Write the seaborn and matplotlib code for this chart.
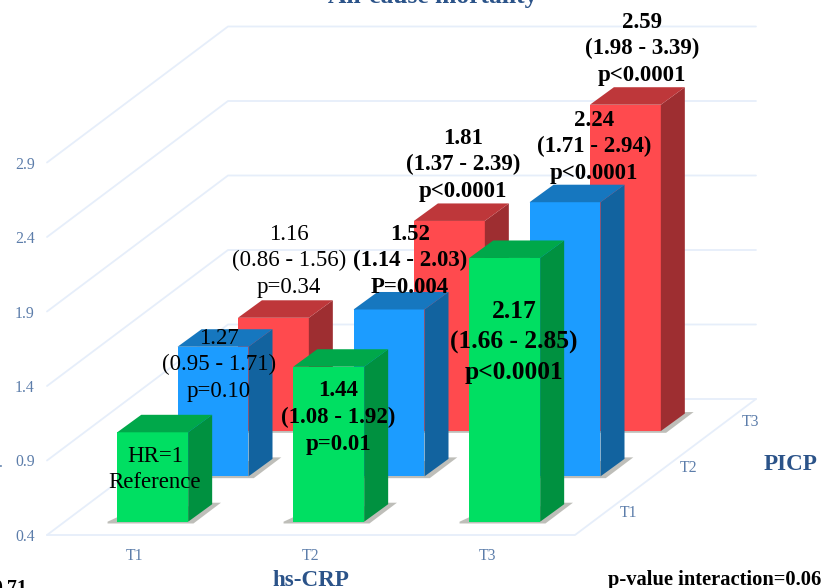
import matplotlib
matplotlib.use("Agg")
import matplotlib.pyplot as plt
import seaborn as sns
from matplotlib.patches import Polygon

# Chart data
hs_crp = ["T1", "T2", "T3"]
picp = ["T1", "T2", "T3"]
hr_t1 = [1.00, 1.44, 2.17]
hr_t2 = [1.27, 1.52, 2.24]
hr_t3 = [1.16, 1.81, 2.59]
y_ticks = [0.4, 0.9, 1.4, 1.9, 2.4, 2.9]

label_t1 = ["HR=1\nReference", "1.44\n(1.08 - 1.92)\np=0.01", "2.17\n(1.66 - 2.85)\np<0.0001"]
label_t2 = ["1.27\n(0.95 - 1.71)\np=0.10", "1.52\n(1.14 - 2.03)\nP=0.004", "2.24\n(1.71 - 2.94)\np<0.0001"]
label_t3 = ["1.16\n(0.86 - 1.56)\np=0.34", "1.81\n(1.37 - 2.39)\np<0.0001", "2.59\n(1.98 - 3.39)\np<0.0001"]

W, H = 822, 588
NAVY = "#2B5389"
TICK = "#5C7DAA"
GRID = "#E6EEFA"
FONT = "Liberation Serif"

sns.set_theme(style="white")
plt.rcParams["font.family"] = [FONT, "DejaVu Sans"]

fig = plt.figure(figsize=(W / 100, H / 100), dpi=100)

# floor front-left corner, size of the plot box, all in pixels
X0, Y0, BOX_W, BOX_H = 47, 535, 528, 447
YMIN, YMAX = 0.4, 3.4
per_cat = BOX_W / 3
per_unit = BOX_H / (YMAX - YMIN)

# oblique projection: how far the whole floor depth shifts on screen
DEPTH_X, DEPTH_Y = 181, 136
BAR_DX, BAR_DY = 24, 17.5


def make_axes(dx, dy, z):
    ax = fig.add_axes([(X0 + dx) / W, (H - Y0 + dy) / H, BOX_W / W, BOX_H / H], zorder=z)
    ax.set_xlim(-0.5, 2.5)
    ax.set_ylim(YMIN, YMAX)
    return ax


# frame: walls, floor and axis labels
base = make_axes(0, 0, 0)
sns.barplot(x=hs_crp, y=[YMIN] * 3, ax=base, color="white", saturation=1, alpha=0)
base.set_xlim(-0.5, 2.5)
base.set_ylim(YMIN, YMAX)
base.set_yticks(y_ticks)
base.set_yticklabels([f"{v:.1f}" for v in y_ticks])
base.tick_params(axis="y", length=0, pad=9, labelsize=11.3, labelcolor=TICK)
base.tick_params(axis="x", length=0, pad=9.5, labelsize=11.3, labelcolor=TICK)
sns.despine(ax=base, left=True, bottom=True)
base.patch.set_visible(False)

ddx = DEPTH_X / per_cat
ddy = DEPTH_Y / per_unit
for v in y_ticks:
    base.plot([-0.5, -0.5 + ddx, 2.5 + ddx], [v, v + ddy, v + ddy], color=GRID, lw=1.3, clip_on=False)
base.plot([-0.5, 2.5, 2.5 + ddx], [YMIN, YMIN, YMIN + ddy], color=GRID, lw=1.3, clip_on=False)

# one axes per PICP row, moved back along the depth direction
rows = [
    (hr_t3, 2, "#FF4A4E", "#BE373A", "#9E2E31"),
    (hr_t2, 1, "#1C9CFF", "#1677BF", "#12639F"),
    (hr_t1, 0, "#00DF62", "#00A84A", "#009140"),
]
for values, i, front, top, side in rows:
    shift = 13.3 + i * DEPTH_Y / 3
    ax = make_axes(shift * DEPTH_X / DEPTH_Y, shift, 1 + (2 - i))
    sns.barplot(x=hs_crp, y=values, ax=ax, color=front, saturation=1, width=0.403, linewidth=0)
    ax.set_xlim(-0.5, 2.5)
    ax.set_ylim(YMIN, YMAX)
    ax.axis("off")

    dx = BAR_DX / per_cat
    dy = BAR_DY / per_unit
    for p in list(ax.patches):
        p.set_edgecolor("none")
        p.set_zorder(2)
        x, w, v = p.get_x(), p.get_width(), p.get_height()
        r = x + w
        # soft shadow on the floor
        ax.add_patch(Polygon([(x - 0.055, YMIN), (x, YMIN + 0.03), (r + dx, YMIN + dy + 0.01),
                              (r + dx + 0.05, YMIN + dy + 0.01), (r + 0.03, YMIN - 0.012), (x - 0.055, YMIN - 0.012)],
                             fc="#8A8A80", ec="none", alpha=0.55, clip_on=False, zorder=1))
        ax.add_patch(Polygon([(r, YMIN), (r + dx, YMIN + dy), (r + dx, v + dy), (r, v)],
                             fc=side, ec="none", clip_on=False, zorder=3))
        ax.add_patch(Polygon([(x, v), (r, v), (r + dx, v + dy), (x + dx, v + dy)],
                             fc=top, ec="none", clip_on=False, zorder=3))

# text layer in pixel coordinates
txt = fig.add_axes([0, 0, 1, 1], zorder=10)
txt.set_xlim(0, W)
txt.set_ylim(H, 0)
txt.axis("off")


def bar_label(x, y, s, bold=False, size=16.5, gap=26.6):
    for n, line in enumerate(s.split("\n")):
        txt.text(x, y + n * gap, line, ha="center", va="center", fontsize=size, color="#000000",
                 fontweight="bold" if bold else "normal", family=FONT)


bar_label(155, 457, label_t1[0], gap=26)
bar_label(338, 391, label_t1[1], bold=True)
bar_label(514, 312, label_t1[2], bold=True, size=18.4, gap=30.5)
bar_label(219, 338, label_t2[0])
bar_label(410, 234, label_t2[1], bold=True)
bar_label(594, 120, label_t2[2], bold=True)
bar_label(289, 234, label_t3[0])
bar_label(463, 138, label_t3[1], bold=True)
bar_label(642, 22, label_t3[2], bold=True)

for name, x, y in zip(picp, [629, 689, 750], [513, 468, 422]):
    txt.text(x, y, name, ha="center", va="center", fontsize=11.3, color=TICK, family=FONT)

txt.text(433, 3, "All-cause mortality", ha="center", va="baseline", fontsize=18.4, fontweight="bold", color=NAVY, family=FONT)
txt.text(311, 586, "hs-CRP", ha="center", va="baseline", fontsize=16.6, fontweight="bold", color=NAVY, family=FONT)
txt.text(790, 465, "PICP", ha="center", va="center", fontsize=16.6, fontweight="bold", color=NAVY, family=FONT)
txt.text(715, 585, "p-value interaction=0.06", ha="center", va="baseline", fontsize=14.8, fontweight="bold", color="#000000", family=FONT)
txt.text(27, 594, "0.71", ha="right", va="baseline", fontsize=14.3, fontweight="bold", color="#000000", family=FONT)
txt.text(-1, 467, ".", ha="left", va="baseline", fontsize=11.3, color=TICK, family=FONT)

fig.savefig("out.png", dpi=100)
